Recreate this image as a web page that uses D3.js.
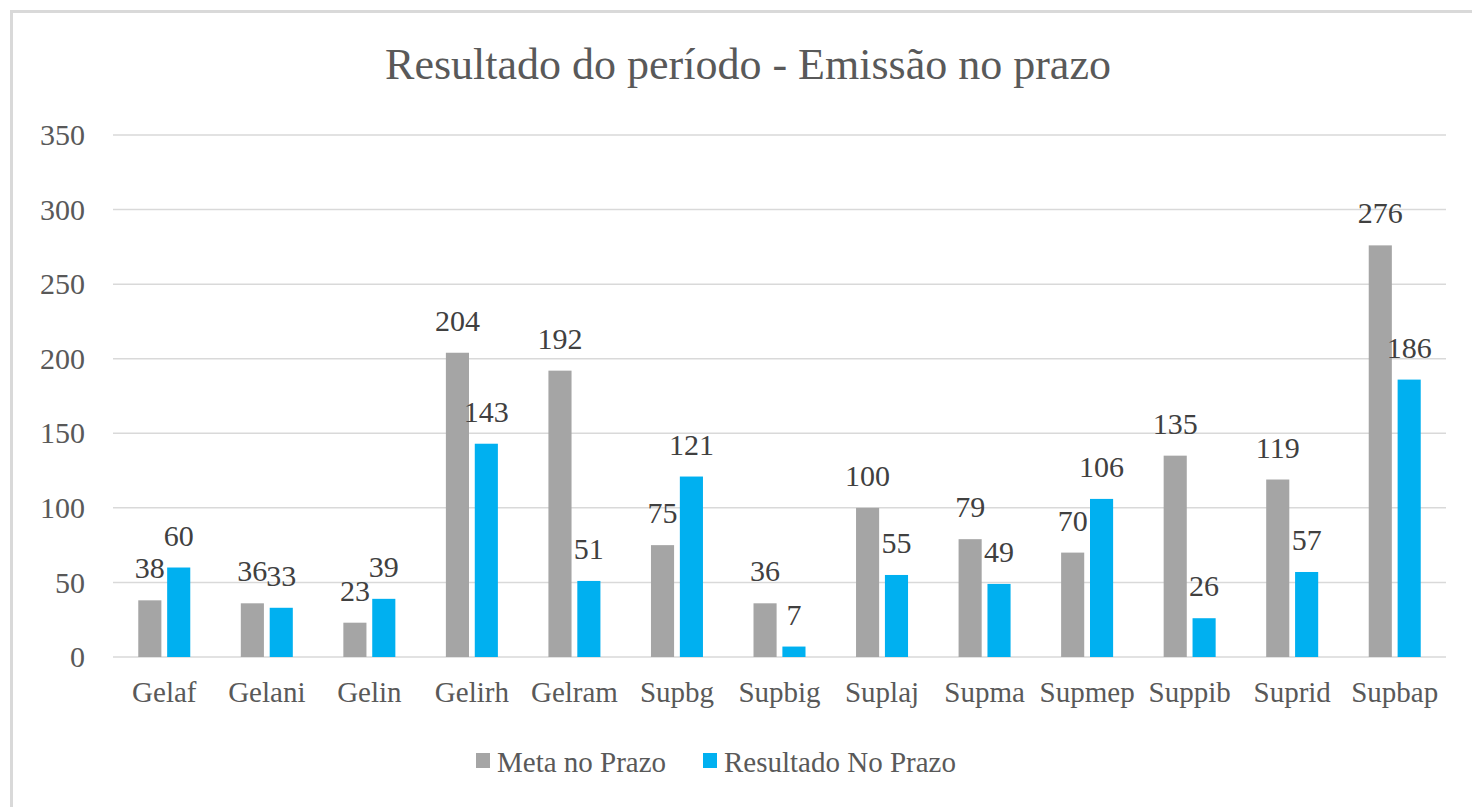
<!DOCTYPE html>
<html>
<head>
<meta charset="utf-8">
<script src="https://cdn.jsdelivr.net/npm/d3@7"></script>
<style>
  body { margin: 0; background: #fff; }
</style>
</head>
<body>
<div id="chart"></div>
<script>
// data
var categories = ["Gelaf", "Gelani", "Gelin", "Gelirh", "Gelram", "Supbg", "Supbig",
  "Suplaj", "Supma", "Supmep", "Suppib", "Suprid", "Supbap"];
var metaNoPrazo = [38, 36, 23, 204, 192, 75, 36, 100, 79, 70, 135, 119, 276];
var resultadoNoPrazo = [60, 33, 39, 143, 51, 121, 7, 55, 49, 106, 26, 57, 186];
var yTicks = [0, 50, 100, 150, 200, 250, 300, 350];
var seriesNames = ["Meta no Prazo", "Resultado No Prazo"];
var colors = ["#a5a5a5", "#00b0f0"];

var FONT = "'Liberation Serif'";

var svgWidth = 1472;
var svgHeight = 807;

var margin = { top: 135, right: 26, bottom: 150, left: 113 };
var width = svgWidth - margin.left - margin.right;
var height = svgHeight - margin.top - margin.bottom;

var svg = d3.select("#chart")
  .append("svg")
  .attr("width", svgWidth)
  .attr("height", svgHeight);

// chart area border (only top and left are visible)
svg.append("path")
  .attr("d", "M11.5,807 L11.5,11.5 L1472,11.5")
  .attr("fill", "none")
  .attr("stroke", "#d9d9d9")
  .attr("stroke-width", 3);

// title
svg.append("text")
  .attr("x", 748)
  .attr("y", 79)
  .attr("text-anchor", "middle")
  .attr("font-family", FONT)
  .attr("font-size", 44)
  .attr("fill", "#595959")
  .text("Resultado do período - Emissão no prazo");

var chartGroup = svg.append("g")
  .attr("transform", `translate(${margin.left}, ${margin.top})`);

var x0 = d3.scaleBand()
  .domain(categories)
  .range([0, width]);

var x1 = d3.scaleBand()
  .domain([0, 1])
  .range([x0.bandwidth() / 2 - 26, x0.bandwidth() / 2 + 26])
  .paddingInner(0.2);

var y = d3.scaleLinear()
  .domain([0, 350])
  .range([height, 0]);

// gridlines
chartGroup.append("g")
  .selectAll("line")
  .data(yTicks)
  .enter()
  .append("line")
  .attr("x1", 0)
  .attr("x2", width)
  .attr("y1", d => y(d))
  .attr("y2", d => y(d))
  .attr("stroke", "#d9d9d9")
  .attr("stroke-width", 1.5);

// y axis labels
var leftAxis = d3.axisLeft(y).tickValues(yTicks).tickSize(0).tickPadding(28);
chartGroup.append("g")
  .call(leftAxis)
  .call(g => g.select(".domain").remove())
  .attr("font-family", FONT)
  .attr("font-size", 30)
  .selectAll("text")
  .attr("fill", "#595959");

// x axis labels
var bottomAxis = d3.axisBottom(x0).tickSize(0).tickPadding(24);
chartGroup.append("g")
  .attr("transform", `translate(0, ${height})`)
  .call(bottomAxis)
  .call(g => g.select(".domain").remove())
  .attr("font-family", FONT)
  .attr("font-size", 29)
  .selectAll("text")
  .attr("fill", "#595959");

// bars and value labels
var series = [metaNoPrazo, resultadoNoPrazo];
series.forEach(function(vals, s) {
  var g = chartGroup.append("g");
  g.selectAll("rect")
    .data(vals)
    .enter()
    .append("rect")
    .attr("x", (d, i) => x0(categories[i]) + x1(s))
    .attr("y", d => y(d))
    .attr("width", x1.bandwidth())
    .attr("height", d => height - y(d))
    .attr("fill", colors[s]);

  g.selectAll("text")
    .data(vals)
    .enter()
    .append("text")
    .attr("x", (d, i) => x0(categories[i]) + x1(s) + x1.bandwidth() / 2)
    .attr("y", d => y(d) - 22)
    .attr("text-anchor", "middle")
    .attr("font-family", FONT)
    .attr("font-size", 30)
    .attr("fill", "#404040")
    .text(d => d);
});

// legend
var legendX = [476, 703];
seriesNames.forEach(function(name, i) {
  svg.append("rect")
    .attr("x", legendX[i])
    .attr("y", 753)
    .attr("width", 14)
    .attr("height", 15)
    .attr("fill", colors[i]);
  svg.append("text")
    .attr("x", legendX[i] + 21)
    .attr("y", 772)
    .attr("font-family", FONT)
    .attr("font-size", 29)
    .attr("fill", "#595959")
    .text(name);
});
</script>
</body>
</html>
